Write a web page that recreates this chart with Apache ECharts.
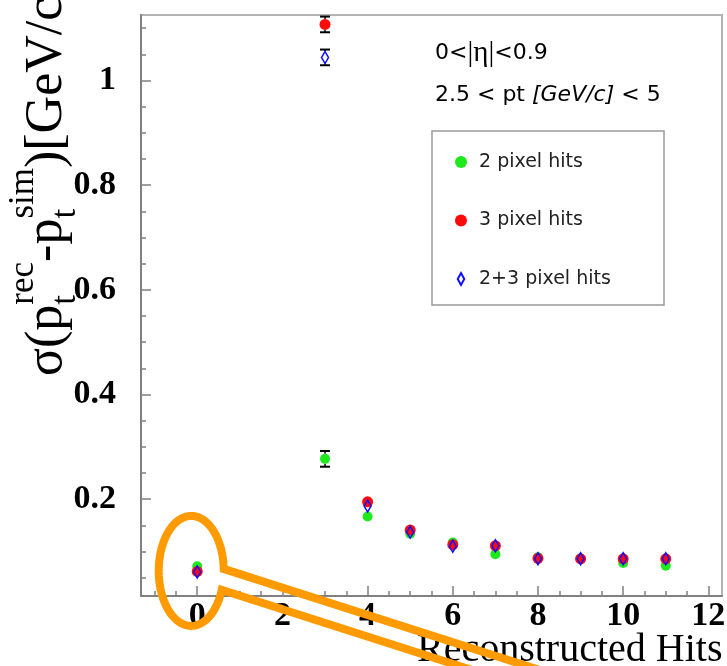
<!DOCTYPE html>
<html>
<head>
<meta charset="utf-8">
<script src="https://cdn.jsdelivr.net/npm/echarts@6/dist/echarts.min.js"></script>
<style>
  html, body { margin: 0; padding: 0; background: #ffffff; }
  #chart { width: 727px; height: 666px; }
</style>
</head>
<body>
<div id="chart"></div>
<script>
// Number of reconstructed hits on the track
const hits = [0, 3, 4, 5, 6, 7, 8, 9, 10, 11];

// Transverse-momentum resolution sigma(pt_rec - pt_sim) [GeV/c]
const twoPixel      = [0.072, 0.277, 0.167, 0.134, 0.117, 0.095, 0.089, 0.086, 0.078, 0.073];
const twoPixelErr   = [0.002, 0.015, 0.002, 0.002, 0.002, 0.002, 0.002, 0.002, 0.002, 0.002];
const threePixel    = [0.062, 1.107, 0.195, 0.141, 0.113, 0.111, 0.087, 0.086, 0.086, 0.086];
const threePixelErr = [0.002, 0.015, 0.002, 0.002, 0.002, 0.002, 0.002, 0.002, 0.002, 0.002];
const bothPixel     = [0.061, 1.044, 0.187, 0.137, 0.110, 0.111, 0.086, 0.086, 0.086, 0.086];
const bothPixelErr  = [0.002, 0.015, 0.002, 0.002, 0.002, 0.002, 0.002, 0.002, 0.002, 0.002];

const seriesNames = ['2 pixel hits', '3 pixel hits', '2+3 pixel hits'];

// Axis ticks
const xMajorTicks = [0, 2, 4, 6, 8, 10, 12];
const xMinorTicks = [-1, -0.5, 0.5, 1, 1.5, 2.5, 3, 3.5, 4.5, 5, 5.5, 6.5, 7, 7.5, 8.5, 9, 9.5, 10.5, 11, 11.5];
const yMajorTicks = [0.2, 0.4, 0.6, 0.8, 1];
const yMinorTicks = [0.05, 0.1, 0.15, 0.25, 0.3, 0.35, 0.45, 0.5, 0.55, 0.65, 0.7, 0.75, 0.85, 0.9, 0.95, 1.05, 1.1];

const X_MIN = -1.32, X_MAX = 12.32;
const Y_MIN = 0.015, Y_MAX = 1.125;

const SERIF = "'Liberation Serif', 'Times New Roman', serif";
const SANS = "'DejaVu Sans', sans-serif";
const AXIS_GREY = '#808080';

const measureCtx = document.createElement('canvas').getContext('2d');
function textWidth(str, font) { measureCtx.font = font; return measureCtx.measureText(str).width; }

const chart = echarts.init(document.getElementById('chart'), null, { renderer: 'canvas' });

// Error bars drawn outside the marker, ROOT style
function errorBars(values, errs, halfMarker) {
  return {
    type: 'custom',
    silent: true,
    z: 1,
    data: hits.map((h, i) => [h, values[i], errs[i]]),
    renderItem: function (params, api) {
      const x = api.value(0), y = api.value(1), e = api.value(2);
      const c = api.coord([x, y]);
      const yTop = api.coord([x, y + e])[1];
      const yBot = api.coord([x, y - e])[1];
      const children = [];
      const style = { stroke: '#000', lineWidth: 1.5 };
      if (c[1] - yTop > halfMarker) {
        children.push({ type: 'line', shape: { x1: c[0], y1: c[1] - halfMarker, x2: c[0], y2: yTop }, style });
        children.push({ type: 'line', shape: { x1: c[0] - 5, y1: yTop, x2: c[0] + 5, y2: yTop }, style: { stroke: '#000', lineWidth: 2 } });
      }
      if (yBot - c[1] > halfMarker) {
        children.push({ type: 'line', shape: { x1: c[0], y1: c[1] + halfMarker, x2: c[0], y2: yBot }, style });
        children.push({ type: 'line', shape: { x1: c[0] - 5, y1: yBot, x2: c[0] + 5, y2: yBot }, style: { stroke: '#000', lineWidth: 2 } });
      }
      return { type: 'group', children };
    }
  };
}

const diamondIcon = 'path://M3,0 L6,5.5 L3,11 L0,5.5 Z';
const xName = 'Reconstructed Hits';
const xNameFont = '40px ' + SERIF;

const option = {
  animation: false,
  backgroundColor: '#ffffff',
  grid: {
    left: 141, top: 15, width: 581, height: 581,
    containLabel: false, outerBoundsMode: 'none',
    show: true, borderColor: '#b4b4b4', borderWidth: 2
  },
  xAxis: [
    {
      type: 'value', min: X_MIN, max: X_MAX, position: 'bottom',
      axisLine: { show: true, onZero: false, lineStyle: { color: AXIS_GREY, width: 2 } },
      axisTick: { show: true, inside: true, length: 10, customValues: xMajorTicks, lineStyle: { color: AXIS_GREY, width: 1.5 } },
      axisLabel: { customValues: xMajorTicks, margin: 3, color: '#000', fontFamily: SERIF, fontWeight: 'bold', fontSize: 34 },
      splitLine: { show: false },
      name: xName, nameLocation: 'end',
      nameGap: -Math.round(textWidth(xName, xNameFont)),
      nameMoveOverlap: false,
      nameTextStyle: { fontFamily: SERIF, fontSize: 40, color: '#000', verticalAlign: 'top', padding: [34, 0, 0, 0] }
    },
    {
      type: 'value', min: X_MIN, max: X_MAX, position: 'bottom',
      axisLine: { show: false, onZero: false },
      axisTick: { show: true, inside: true, length: 5, customValues: xMinorTicks, lineStyle: { color: AXIS_GREY, width: 1.5 } },
      axisLabel: { show: false },
      splitLine: { show: false }
    }
  ],
  yAxis: [
    {
      type: 'value', min: Y_MIN, max: Y_MAX, position: 'left',
      axisLine: { show: true, onZero: false, lineStyle: { color: AXIS_GREY, width: 2 } },
      axisTick: { show: true, inside: true, length: 10, customValues: yMajorTicks, lineStyle: { color: AXIS_GREY, width: 1.5 } },
      axisLabel: { customValues: yMajorTicks, margin: 25, color: '#000', fontFamily: SERIF, fontWeight: 'bold', fontSize: 34 },
      splitLine: { show: false }
    },
    {
      type: 'value', min: Y_MIN, max: Y_MAX, position: 'left',
      axisLine: { show: false, onZero: false },
      axisTick: { show: true, inside: true, length: 5, customValues: yMinorTicks, lineStyle: { color: AXIS_GREY, width: 1.5 } },
      axisLabel: { show: false },
      splitLine: { show: false }
    }
  ],
  legend: {
    orient: 'vertical',
    left: 432, top: 131,
    padding: [21.5, 47, 16.5, 23],
    itemGap: 39.5,
    itemWidth: 26, itemHeight: 12,
    borderColor: '#999', borderWidth: 1.5,
    backgroundColor: '#ffffff',
    textStyle: { fontFamily: SANS, fontSize: 19, color: '#222', width: 138, lineHeight: 19 },
    data: [
      { name: seriesNames[0], icon: 'circle' },
      { name: seriesNames[1], icon: 'circle' },
      { name: seriesNames[2], icon: diamondIcon }
    ]
  },
  series: [
    errorBars(twoPixel, twoPixelErr, 5),
    errorBars(threePixel, threePixelErr, 5.5),
    errorBars(bothPixel, bothPixelErr, 6),
    {
      name: seriesNames[0], type: 'scatter', z: 2,
      symbol: 'circle', symbolSize: 10,
      itemStyle: { color: '#1de91d', opacity: 1 },
      data: hits.map((h, i) => [h, twoPixel[i]])
    },
    {
      name: seriesNames[1], type: 'scatter', z: 3,
      symbol: 'circle', symbolSize: 11,
      itemStyle: { color: '#ff0a0a', opacity: 1 },
      data: hits.map((h, i) => [h, threePixel[i]])
    },
    {
      name: seriesNames[2], type: 'scatter', z: 4,
      symbol: diamondIcon, symbolSize: [7, 12],
      itemStyle: { color: 'transparent', borderColor: '#1010ff', borderWidth: 1.6, opacity: 1 },
      data: hits.map((h, i) => [h, bothPixel[i]])
    }
  ]
};

chart.setOption(option);

// ---- Kinematic range annotations ----
function buildAnnotations() {
  return [
    {
      id: 'etaRange', type: 'text', left: 435, top: 39, z: 10,
      style: {
        text: '{a|0<}{b||η|}{a|<0.9}',
        rich: {
          a: { fontFamily: SANS, fontSize: 22, fill: '#000' },
          b: { fontFamily: SERIF, fontSize: 29, fill: '#000' }
        }
      }
    },
    {
      id: 'ptRange', type: 'text', left: 435, top: 84, z: 10,
      style: {
        text: '{a|2.5 < pt }{i|[GeV/c]}{a| < 5}',
        rich: {
          a: { fontFamily: SANS, fontSize: 22, fill: '#000' },
          i: { fontFamily: SANS, fontSize: 22, fontStyle: 'italic', fill: '#000' }
        }
      }
    }
  ];
}

// ---- Rotated y-axis title with sub/superscripts ----
function buildYTitle() {
  const F = 52, f = 35;
  const big = F + 'px ' + SERIF;
  const small = f + 'px ' + SERIF;
  const parts = [];
  let x = 0;
  const addMain = (t) => { parts.push({ t, x, y: 0, font: big }); x += textWidth(t, big); };
  const addSubSup = (sub, sup) => {
    parts.push({ t: sub, x, y: 0.36 * F, font: small });
    parts.push({ t: sup, x, y: -0.45 * F, font: small });
    x += Math.max(textWidth(sub, small), textWidth(sup, small));
  };
  addMain('σ(p');
  addSubSup('t', 'rec');
  addMain('-p');
  addSubSup('t', 'sim');
  addMain(')[GeV/c]');
  return {
    id: 'yTitle', type: 'group', x: 47, y: 376, rotation: Math.PI / 2, z: 10,
    children: parts.map((p, i) => ({
      id: 'yTitlePart' + i, type: 'text', x: p.x, y: p.y,
      style: { text: p.t, font: p.font, fill: '#000', align: 'left', verticalAlign: 'middle' }
    }))
  };
}

// ---- Orange callout (ellipse with a pointer tail) around the first data point ----
function buildCallout() {
  const p = chart.convertToPixel({ xAxisIndex: 0, yAxisIndex: 0 }, [hits[0], bothPixel[0]]);
  const cx = p[0] - 6, cy = p[1] - 1;
  const rx = 32.5, ry = 55;
  const a0 = Math.asin(-2 / ry);   // upper junction angle (screen coords)
  const a1 = Math.asin(19 / ry);   // lower junction angle
  const slope = 0.32, run = 420;
  const pts = [];
  const ux = cx + rx * Math.cos(a0), uy = cy + ry * Math.sin(a0);
  const lx = cx + rx * Math.cos(a1), ly = cy + ry * Math.sin(a1);
  pts.push([ux + run, uy + run * slope]);
  // the long way round: over the top, down the left side, back along the bottom
  const start = a0, end = a1 - 2 * Math.PI;
  const steps = 120;
  for (let k = 0; k <= steps; k++) {
    const t = start + (end - start) * k / steps;
    pts.push([cx + rx * Math.cos(t), cy + ry * Math.sin(t)]);
  }
  pts.push([lx + run, ly + run * slope]);
  return {
    id: 'callout', type: 'polyline', z: 20, silent: true,
    shape: { points: pts },
    style: { fill: null, stroke: '#ff9a00', lineWidth: 8, lineJoin: 'miter' }
  };
}

chart.setOption({ graphic: buildAnnotations().concat([buildYTitle(), buildCallout()]) });
</script>
</body>
</html>
